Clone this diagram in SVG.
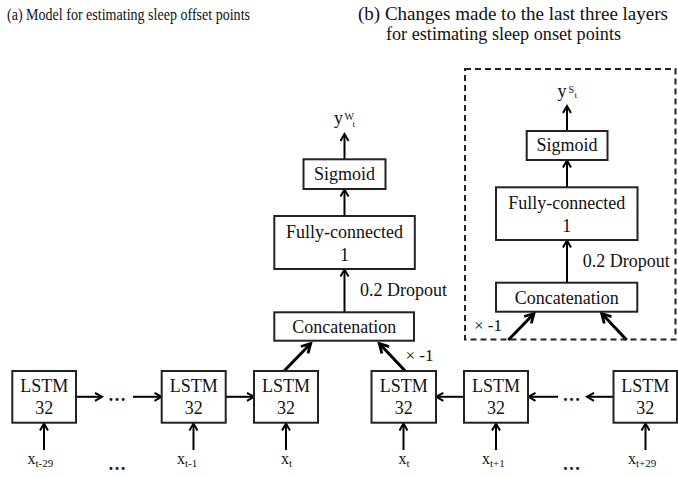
<svg xmlns="http://www.w3.org/2000/svg" width="678" height="477" viewBox="0 0 678 477" font-family="Liberation Serif, Times New Roman, serif">
<defs>
<marker id="ah" markerUnits="userSpaceOnUse" viewBox="-10 -6 12 12" refX="0" refY="0" markerWidth="12" markerHeight="12" orient="auto" overflow="visible">
<path d="M-7,-4 L0,0 L-7,4" fill="none" stroke="#000" stroke-width="2" stroke-linejoin="miter"/>
</marker>
<marker id="ahb" markerUnits="userSpaceOnUse" viewBox="-12 -7 14 14" refX="0" refY="0" markerWidth="14" markerHeight="14" orient="auto" overflow="visible">
<path d="M-9,-5 L0,0 L-9,5" fill="none" stroke="#000" stroke-width="2.8" stroke-linejoin="miter"/>
</marker>
</defs>
<style>
text{font-family:Liberation Serif, Times New Roman, serif;fill:#111;}
.t{font-size:17px;}
.ta{font-size:16.5px;}
.tb{font-size:18px;}
.b{font-size:18px;text-anchor:middle;}
.s{font-size:11px;}
.box{fill:#fff;stroke:#222;stroke-width:2;}
.ar{stroke:#000;stroke-width:2;fill:none;marker-end:url(#ah);}
.ard{stroke:#000;stroke-width:3;fill:none;marker-end:url(#ahb);}
.dash{fill:none;stroke:#222;stroke-width:2;stroke-dasharray:6 4;}
.dots{font-size:18px;font-weight:bold;}
</style>
<rect width="678" height="477" fill="#fff"/>

<g id="titles">
<text class="ta" x="7" y="20" textLength="243" lengthAdjust="spacingAndGlyphs">(a) Model for estimating sleep offset points</text>
<text class="tb" x="358" y="20" textLength="310" lengthAdjust="spacingAndGlyphs">(b) Changes made to the last three layers</text>
<text class="tb" x="386" y="40" textLength="235" lengthAdjust="spacingAndGlyphs">for estimating sleep onset points</text>
</g>

<g id="frame-b">
<rect class="dash" x="465" y="69" width="210.5" height="270.5"/>
</g>

<g id="connectors">
<line class="ar" x1="344.5" y1="159.3" x2="344.5" y2="134"/>
<line class="ar" x1="344.5" y1="216" x2="344.5" y2="189.5"/>
<line class="ar" x1="344.5" y1="312.3" x2="344.5" y2="269.5"/>
<line class="ard" x1="284.3" y1="370.7" x2="310.7" y2="343.5"/>
<line class="ard" x1="405" y1="370.7" x2="379.3" y2="343.5"/>
<line class="ar" x1="567" y1="131" x2="567" y2="106"/>
<line class="ar" x1="567" y1="187.3" x2="567" y2="160.5"/>
<line class="ar" x1="567" y1="282.7" x2="567" y2="240.5"/>
<line class="ard" x1="508.3" y1="340" x2="534" y2="313.5"/>
<line class="ard" x1="626.7" y1="340" x2="601.7" y2="313.5"/>
<line class="ar" x1="76" y1="396.8" x2="102" y2="396.8"/>
<line class="ar" x1="133" y1="396.8" x2="161.5" y2="396.8"/>
<line class="ar" x1="226" y1="396.8" x2="254" y2="396.8"/>
<line class="ar" x1="464" y1="396.8" x2="436.3" y2="396.8"/>
<line class="ar" x1="558" y1="396.8" x2="528.5" y2="396.8"/>
<line class="ar" x1="613.5" y1="396.8" x2="587" y2="396.8"/>
<line class="ar" x1="44" y1="450" x2="44" y2="423.5"/>
<line class="ar" x1="193.5" y1="450" x2="193.5" y2="423.5"/>
<line class="ar" x1="286" y1="450" x2="286" y2="423.5"/>
<line class="ar" x1="403.5" y1="450" x2="403.5" y2="423.5"/>
<line class="ar" x1="496" y1="450" x2="496" y2="423.5"/>
<line class="ar" x1="645.5" y1="450" x2="645.5" y2="423.5"/>
</g>

<g id="labels">
<text class="b" style="text-anchor:start" x="360" y="296">0.2 Dropout</text>
<text class="t" x="405.5" y="361">× -1</text>
<text class="b" style="text-anchor:start" x="582.7" y="267.3">0.2 Dropout</text>
<text class="t" x="474" y="330.5">× -1</text>
<text x="334" y="124" style="font-size:18px">y</text>
<text x="344.5" y="120" style="font-size:10px">W</text>
<text x="352.5" y="126.5" style="font-size:9px">t</text>
<text x="557.5" y="96.7" style="font-size:18px">y</text>
<text x="568.5" y="93" style="font-size:10px">S</text>
<text x="574.5" y="98" style="font-size:9px">t</text>
<text class="dots" x="108" y="401">…</text>
<text class="dots" x="562.5" y="401">…</text>
<text class="dots" x="108" y="470">…</text>
<text class="dots" x="562.5" y="470">…</text>
</g>

<g id="sigmoid-a">
<rect class="box" x="303.5" y="159.3" width="82" height="29.7"/>
<text class="b" x="344.5" y="180">Sigmoid</text>
</g>
<g id="fc-a">
<rect class="box" x="274.3" y="216" width="140.5" height="53"/>
<text class="b" x="344.5" y="238.3">Fully-connected</text>
<text class="b" x="344.5" y="261">1</text>
</g>
<g id="concat-a">
<rect class="box" x="274.3" y="312.3" width="139.7" height="28.4"/>
<text class="b" x="344.2" y="333.3">Concatenation</text>
</g>

<g id="sigmoid-b">
<rect class="box" x="526.7" y="131" width="80.8" height="29"/>
<text class="b" x="567" y="151">Sigmoid</text>
</g>
<g id="fc-b">
<rect class="box" x="496" y="187.3" width="141.5" height="52.7"/>
<text class="b" x="566.8" y="208.5">Fully-connected</text>
<text class="b" x="566.8" y="231.7">1</text>
</g>
<g id="concat-b">
<rect class="box" x="496" y="282.7" width="141.3" height="29"/>
<text class="b" x="566.7" y="304">Concatenation</text>
</g>

<g id="lstm1"><rect class="box" x="12.3" y="371" width="63.7" height="51.7"/><text class="b" x="44.2" y="391.7">LSTM</text><text class="b" x="44.2" y="414.3">32</text></g>
<g id="lstm2"><rect class="box" x="161.7" y="371" width="64" height="51.7"/><text class="b" x="193.7" y="391.7">LSTM</text><text class="b" x="193.7" y="414.3">32</text></g>
<g id="lstm3"><rect class="box" x="254" y="371" width="64" height="51.7"/><text class="b" x="286" y="391.7">LSTM</text><text class="b" x="286" y="414.3">32</text></g>
<g id="lstm4"><rect class="box" x="371.5" y="371" width="64.5" height="51.7"/><text class="b" x="403.7" y="391.7">LSTM</text><text class="b" x="403.7" y="414.3">32</text></g>
<g id="lstm5"><rect class="box" x="464" y="371" width="64" height="51.7"/><text class="b" x="496" y="391.7">LSTM</text><text class="b" x="496" y="414.3">32</text></g>
<g id="lstm6"><rect class="box" x="613.5" y="371" width="63.5" height="51.7"/><text class="b" x="645.3" y="391.7">LSTM</text><text class="b" x="645.3" y="414.3">32</text></g>

<g id="inputs">
<text x="27.5" y="463.5" style="font-size:16px">x<tspan class="s" dy="3">t-29</tspan></text>
<text x="177" y="463.5" style="font-size:16px">x<tspan class="s" dy="3">t-1</tspan></text>
<text x="281" y="463.5" style="font-size:16px">x<tspan class="s" dy="3">t</tspan></text>
<text x="398.5" y="463.5" style="font-size:16px">x<tspan class="s" dy="3">t</tspan></text>
<text x="482" y="463.5" style="font-size:16px">x<tspan class="s" dy="3">t+1</tspan></text>
<text x="628" y="463.5" style="font-size:16px">x<tspan class="s" dy="3">t+29</tspan></text>
</g>
</svg>
